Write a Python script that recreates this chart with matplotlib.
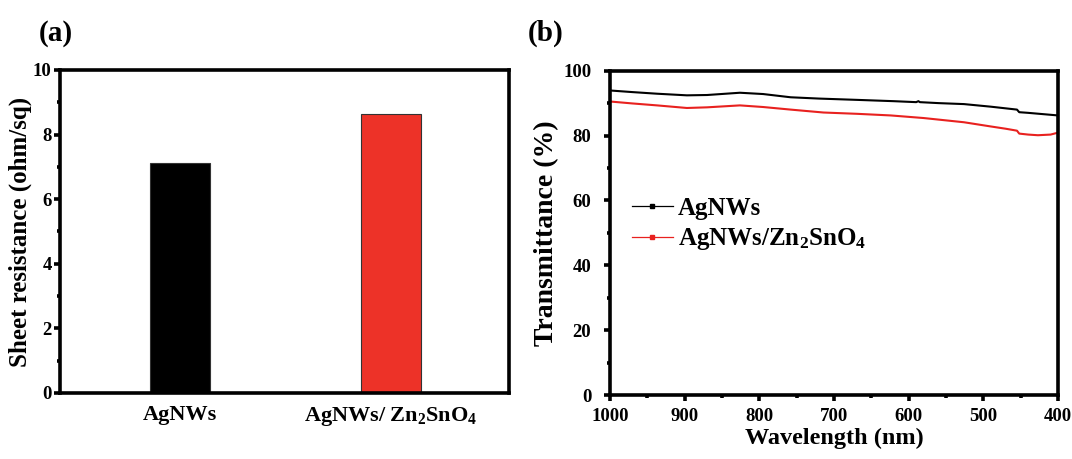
import matplotlib
matplotlib.use("Agg")
import matplotlib.pyplot as plt
from matplotlib.lines import Line2D
from matplotlib.ticker import MultipleLocator

plt.rcParams["font.family"] = "Liberation Serif"
plt.rcParams["font.weight"] = "bold"
plt.rcParams["mathtext.fontset"] = "custom"
plt.rcParams["mathtext.rm"] = "Liberation Serif:bold"
plt.rcParams["mathtext.it"] = "Liberation Serif:bold"
plt.rcParams["mathtext.bf"] = "Liberation Serif:bold"

# ----------------------------
# Data
# ----------------------------
samples = ["AgNWs", "AgNWs/ Zn$_2$SnO$_4$"]
sheet_res = [7.12, 8.64]
bar_colors = ["#000000", "#ED3228"]

wl_ag = [1000, 970, 937, 897, 870, 826, 795, 758, 720, 669, 620, 590, 587,
         585, 560, 526, 490, 455, 452, 440, 420, 400]
t_ag = [93.9, 93.4, 92.9, 92.4, 92.5, 93.2, 92.8, 91.8, 91.4, 91.0, 90.6,
        90.3, 90.6, 90.3, 90.0, 89.7, 88.9, 88.0, 87.2, 87.0, 86.6, 86.2]

wl_zto = [1000, 970, 937, 897, 870, 826, 795, 758, 714, 669, 624, 580, 526,
          490, 470, 455, 452, 440, 427, 410, 400]
t_zto = [90.5, 89.9, 89.3, 88.5, 88.7, 89.3, 88.8, 88.0, 87.1, 86.7, 86.2,
         85.4, 84.1, 82.8, 82.1, 81.5, 80.6, 80.3, 80.1, 80.3, 80.9]

fig = plt.figure(figsize=(10.72, 4.59), dpi=100)

SPINE_W = 2.6

# ----------------------------
# (a) sheet resistance bars
# ----------------------------
ax1 = fig.add_axes([0.056, 0.1438, 0.4188, 0.7037])
ax1.bar([0, 1], sheet_res, width=0.286, color=bar_colors,
        edgecolor="#333333", linewidth=0.8)
ax1.set_xlim(-0.57, 1.56)
ax1.set_ylim(0, 10)
ax1.set_xticks([0, 1])
ax1.set_xticklabels(samples, fontsize=16, fontweight="bold")
ax1.yaxis.set_major_locator(MultipleLocator(2))
ax1.yaxis.set_minor_locator(MultipleLocator(1))
ax1.tick_params(axis="x", length=0, pad=9)
ax1.tick_params(axis="y", which="major", direction="out", length=4.5,
                width=SPINE_W, labelsize=13.5, pad=1.5)
ax1.tick_params(axis="y", which="minor", direction="out", length=2.5,
                width=SPINE_W)
ax1.set_ylabel("Sheet resistance (ohm/sq)", fontsize=18, fontweight="bold",
               labelpad=1)
for s in ax1.spines.values():
    s.set_linewidth(SPINE_W)
fig.text(0.036, 0.912, "(a)", fontsize=21, fontweight="bold", ha="left")

# ----------------------------
# (b) transmittance spectra
# ----------------------------
ax2 = fig.add_axes([0.569, 0.1394, 0.418, 0.7066])
ax2.plot(wl_ag, t_ag, color="black", linewidth=1.5)
ax2.plot(wl_zto, t_zto, color="#E8211F", linewidth=1.5)
ax2.set_xlim(1000, 400)
ax2.set_ylim(0, 100)
ax2.xaxis.set_major_locator(MultipleLocator(100))
ax2.xaxis.set_minor_locator(MultipleLocator(50))
ax2.yaxis.set_major_locator(MultipleLocator(20))
ax2.yaxis.set_minor_locator(MultipleLocator(10))
ax2.tick_params(which="major", direction="out", length=4.5, width=SPINE_W,
                labelsize=13.5)
ax2.tick_params(which="minor", direction="out", length=2.5, width=SPINE_W)
ax2.tick_params(axis="y", pad=9)
ax2.tick_params(axis="x", pad=5)
ax2.set_xlabel("Wavelength (nm)", fontsize=17.5, fontweight="bold",
               labelpad=2)
ax2.set_ylabel("Transmittance (%)", fontsize=20, fontweight="bold",
               labelpad=3)
for s in ax2.spines.values():
    s.set_linewidth(SPINE_W)

handles = [
    Line2D([], [], color="black", linewidth=0.9, marker="s", markersize=2.5),
    Line2D([], [], color="#E8211F", linewidth=0.9, marker="s", markersize=2.5),
]
ax2.legend(handles, ["AgNWs", "AgNWs/Zn$_2$SnO$_4$"], loc="center left",
           bbox_to_anchor=(0.049, 0.525), frameon=False, fontsize=18,
           borderpad=0, borderaxespad=0, handlelength=1.64,
           handletextpad=0.2, labelspacing=0.25)
fig.text(0.492, 0.912, "(b)", fontsize=21, fontweight="bold", ha="left")

plt.savefig("out.png", dpi=100)
